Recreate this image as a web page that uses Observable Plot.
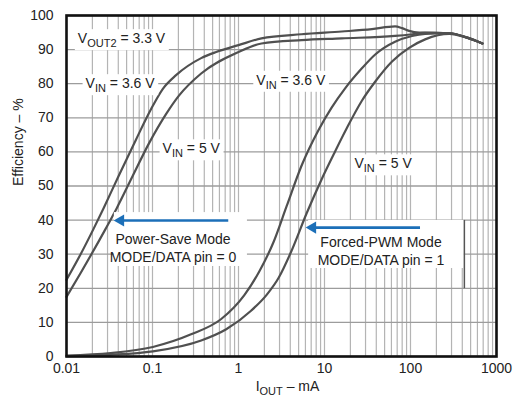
<!DOCTYPE html>
<html><head><meta charset="utf-8">
<script src="https://cdn.jsdelivr.net/npm/d3@7"></script>
<script src="https://cdn.jsdelivr.net/npm/@observablehq/plot@0.6"></script>
<style>body{margin:0;background:#fff}</style>
</head><body><div id="chart"></div>
<script>
// ---- data ----
const psVin36X = [0.01, 0.0146, 0.0207, 0.027, 0.0405, 0.064, 0.096, 0.132, 0.188, 0.368, 0.551, 1.0, 1.85, 5.42, 15.9, 35.6, 66.1, 79.8, 96.3, 126, 283, 458, 686];
const psVin36Y = [22.5, 30, 37.5, 43.5, 53, 63.5, 72.5, 78.5, 82.5, 87.5, 89.3, 91.3, 93.3, 94.5, 95.3, 96, 96.8, 96.3, 95.5, 95, 94.8, 93.5, 91.8];
const psVin5X = [0.01, 0.0146, 0.0286, 0.0384, 0.059, 0.091, 0.143, 0.203, 0.368, 1.0, 1.85, 5.42, 15.9, 66.1, 104, 148, 283, 458, 686];
const psVin5Y = [17.5, 24.5, 37.5, 43.5, 53, 62.5, 71, 76.5, 83, 89.3, 91.8, 92.8, 93.3, 94, 94.5, 95, 94.8, 93.5, 91.8];
const pwmVin36X = [0.01, 0.0327, 0.101, 0.281, 0.63, 1.169, 1.75, 2.55, 3.62, 5.42, 8.56, 12.1, 17.2, 27.2, 38.6, 66.1, 104, 148, 283, 458, 686];
const pwmVin36Y = [0.3, 1, 2.8, 6.5, 11, 18, 25, 33.5, 44, 56, 66.5, 73, 78.5, 84.5, 88.5, 92.3, 94, 94.6, 94.8, 93.5, 91.8];
const pwmVin5X = [0.01, 0.0327, 0.101, 0.368, 0.72, 1.411, 2.113, 2.92, 4.14, 6.2, 9.27, 13.2, 18.2, 27.2, 38.6, 61.0, 96.3, 148, 283, 458, 686];
const pwmVin5Y = [0.1, 0.5, 1.5, 4.7, 8, 13.5, 18, 23, 31, 42, 52, 60, 67, 75, 80.5, 86.5, 90.5, 93, 94.6, 93.4, 91.8];

const xTicks = [0.01, 0.1, 1, 10, 100, 1000];
const yTicks = [0, 10, 20, 30, 40, 50, 60, 70, 80, 90, 100];

const annText = ["V{OUT2} = 3.3 V", "V{IN} = 3.6 V", "V{IN} = 5 V", "V{IN} = 3.6 V", "V{IN} = 5 V"];
const annX = [0.01355, 0.01667, 0.131, 1.61, 22.3];
const annY = [93.2, 80.0, 60.9, 81.0, 56.5];

const modeText = ["Power-Save Mode\nMODE/DATA pin = 0", "Forced-PWM Mode\nMODE/DATA pin = 1"];
const modeX = [0.173, 45.4];
const modeY = [32.1, 31.1];
const boxX1 = [0.036, 6.54], boxX2 = [1.27, 423], boxY1 = [26.4, 25.8], boxY2 = [42.2, 39.9];
const arrowFromX = [0.76, 129], arrowToX = [0.0404, 6.9], arrowY = [39.9, 37.8];
const barX = [423], barY1 = [19.9], barY2 = [39.9];

// ---- build tables ----
const series = [
  ["PS 3.6", psVin36X, psVin36Y], ["PS 5", psVin5X, psVin5Y],
  ["PWM 3.6", pwmVin36X, pwmVin36Y], ["PWM 5", pwmVin5X, pwmVin5Y]
].flatMap(([name, xs, ys]) => xs.map((x, i) => ({name, x, y: ys[i]})));
const minorTicks = xTicks.slice(0, -1).flatMap(d => [1,2,3,4,5,6,7,8,9].map(k => d * k)).concat([1000]);
const ann = annText.map((t, i) => ({t, x: annX[i], y: annY[i]}));
const modes = modeText.map((t, i) => ({t, x: modeX[i], y: modeY[i]}));
const boxes = boxX1.map((d, i) => ({x1: d, x2: boxX2[i], y1: boxY1[i], y2: boxY2[i]}));
const arrows = arrowFromX.map((d, i) => ({x1: d, x2: arrowToX[i], y: arrowY[i]}));
const bars = barX.map((d, i) => ({x: d, y1: barY1[i], y2: barY2[i]}));

const blue = "#1c6fb8";
const chart = Plot.plot({
  width: 519, height: 402,
  marginLeft: 66, marginRight: 23, marginTop: 15, marginBottom: 46,
  style: {fontFamily: "'Liberation Sans', Arial, sans-serif", fontSize: "14px", color: "#222", background: "#fff"},
  x: {type: "log", domain: [0.01, 1000]},
  y: {domain: [0, 100]},
  marks: [
    Plot.ruleX(minorTicks, {stroke: "#b4b4b4", strokeWidth: 1.2}),
    Plot.ruleY(yTicks, {stroke: "#9c9c9c", strokeWidth: 1.3}),
    Plot.line(series, {x: "x", y: "y", z: "name", stroke: "#505050", strokeWidth: 2.2, curve: "monotone-x"}),
    Plot.rect(boxes, {x1: "x1", x2: "x2", y1: "y1", y2: "y2", fill: "white"}),
    Plot.ruleX(bars, {x: "x", y1: "y1", y2: "y2", stroke: "#555", strokeWidth: 1.5}),
    Plot.link(arrows, {x1: "x1", x2: "x2", y1: "y", y2: "y", stroke: blue, strokeWidth: 2.6}),
    Plot.dot(arrows, {x: "x2", y: "y", symbol: "triangle", rotate: -90, r: 4.5, fill: blue, stroke: "none", dx: 2}),
    Plot.text(modes, {x: "x", y: "y", text: "t", textAnchor: "middle", lineHeight: 1.3, fill: "#222", fontSize: 14}),
    Plot.text(ann, {x: "x", y: "y", text: "t", textAnchor: "start", fill: "#222", fontSize: 14, className: "ann"}),
    Plot.frame({stroke: "#111", strokeWidth: 2.6}),
    Plot.axisX(xTicks, {tickSize: 0, tickPadding: 7, tickFormat: d => String(d), label: null, fontSize: 14, fill: "#222"}),
    Plot.axisY(yTicks, {tickSize: 0, tickPadding: 13, label: null, fontSize: 14, fill: "#222"}),
    Plot.text(["I{OUT} – mA"], {frameAnchor: "bottom", dy: 34, dx: 6, text: d => d, fontSize: 14, fill: "#222", className: "xlab"}),
    Plot.text(["Efficiency – %"], {frameAnchor: "left", dx: -48, rotate: -90, text: d => d, fontSize: 14, fill: "#222"})
  ]
});
document.getElementById("chart").append(chart);

// subscripts
const NS = "http://www.w3.org/2000/svg";
d3.select(chart).selectAll("text").each(function() {
  const t = this.textContent;
  if (!t.includes("{")) return;
  const parts = t.split(/(\{[^}]*\})/).filter(p => p);
  while (this.firstChild) this.removeChild(this.firstChild);
  let shifted = false;
  for (const p of parts) {
    const ts = document.createElementNS(NS, "tspan");
    if (p.startsWith("{")) {
      ts.textContent = p.slice(1, -1);
      ts.setAttribute("font-size", "11");
      ts.setAttribute("dy", "4");
      shifted = true;
    } else {
      ts.textContent = p;
      if (shifted) { ts.setAttribute("dy", "-4"); shifted = false; }
    }
    this.appendChild(ts);
  }
});
// white label backgrounds
d3.select(chart).selectAll("g.ann text").each(function() {
  const b = this.getBBox();
  const r = document.createElementNS(NS, "rect");
  r.setAttribute("x", b.x - 3); r.setAttribute("y", b.y - 1);
  r.setAttribute("width", b.width + 6); r.setAttribute("height", b.height + 2);
  r.setAttribute("fill", "white");
  const tr = this.getAttribute("transform");
  if (tr) r.setAttribute("transform", tr);
  this.parentNode.insertBefore(r, this);
});
</script>
</body></html>
